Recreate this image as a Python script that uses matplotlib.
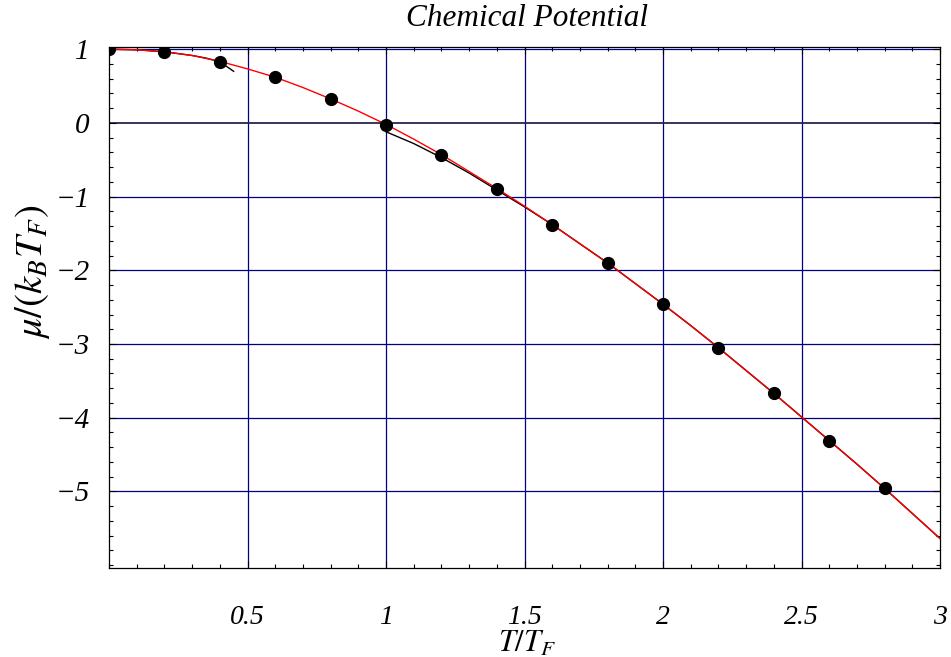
import matplotlib
matplotlib.use("Agg")
import matplotlib.pyplot as plt
from matplotlib.ticker import MultipleLocator, FixedLocator

plt.rcParams['mathtext.fontset'] = 'stix'
plt.rcParams['font.family'] = ['Liberation Serif', 'DejaVu Serif']

# exact (red) curve
t_exact = [0.0, 0.1, 0.2, 0.3, 0.4, 0.5, 0.6, 0.7, 0.8, 0.9, 1.0, 1.1, 1.2, 1.3, 1.4, 1.5,
           1.6, 1.7, 1.8, 1.9, 2.0, 2.1, 2.2, 2.3, 2.4, 2.5, 2.6, 2.7, 2.8, 2.9, 3.0]
mu_exact = [1.0, 0.992, 0.966, 0.915, 0.835, 0.733, 0.62, 0.48, 0.326, 0.16, -0.02, -0.22, -0.43,
            -0.66, -0.89, -1.13, -1.38, -1.64, -1.90, -2.18, -2.46, -2.75, -3.05, -3.36, -3.67,
            -3.99, -4.31, -4.63, -4.96, -5.30, -5.64]

# low-temperature expansion (black)
t_low = [0.0, 0.1, 0.2, 0.3, 0.35, 0.4, 0.45]
mu_low = [1.0, 0.992, 0.965, 0.915, 0.88, 0.83, 0.70]

# high-temperature expansion (black)
t_high = [1.0, 1.1, 1.2, 1.3, 1.4, 1.5, 1.6, 1.7, 1.8, 1.9, 2.0, 2.1, 2.2, 2.3, 2.4, 2.5,
          2.6, 2.7, 2.8, 2.9, 3.0]
mu_high = [-0.12, -0.28, -0.47, -0.68, -0.91, -1.14, -1.38, -1.64, -1.90, -2.18, -2.46, -2.75,
           -3.05, -3.36, -3.67, -3.99, -4.31, -4.63, -4.96, -5.30, -5.64]

# numerical points (dots)
t_pts = [0.0, 0.2, 0.4, 0.6, 0.8, 1.0, 1.2, 1.4, 1.6, 1.8, 2.0, 2.2, 2.4, 2.6, 2.8]
mu_pts = [1.0, 0.96, 0.83, 0.62, 0.326, -0.03, -0.435, -0.897, -1.386, -1.90, -2.46,
          -3.05, -3.67, -4.31, -4.96]

xticks = [0.5, 1, 1.5, 2, 2.5, 3]
xticklabels = ['0.5', '1', '1.5', '2', '2.5', '3']
yticks = [1, 0, -1, -2, -3, -4, -5]
yticklabels = ['1', '0', '\u22121', '\u22122', '\u22123', '\u22124', '\u22125']

fig = plt.figure(figsize=(9.51, 6.57), dpi=100)
ax = fig.add_axes([109/951, 1-568/657, (940-109)/951, (568-47)/657])
ax.set_xlim(0, 3)
ax.set_ylim(-6.04, 1.03)

grid_c = '#000080'
for x in xticks[:-1]:
    ax.axvline(x, color=grid_c, lw=0.9, zorder=1)
for y in yticks:
    ax.axhline(y, color=grid_c if y != 0 else '#262650', lw=0.9 if y != 0 else 1.3, zorder=1)

ax.plot(t_exact, mu_exact, color='red', lw=1.0, zorder=3)
ax.plot(t_low, mu_low, color='black', lw=1.0, zorder=2)
ax.plot(t_high, mu_high, color='black', lw=1.0, zorder=2)
ax.plot(t_pts, mu_pts, 'o', color='black', ms=8.5, zorder=4)

ax.xaxis.set_major_locator(FixedLocator(xticks))
ax.set_xticklabels(xticklabels)
ax.xaxis.set_minor_locator(MultipleLocator(0.1))
ax.yaxis.set_major_locator(FixedLocator(yticks))
ax.set_yticklabels(yticklabels)
ax.yaxis.set_minor_locator(MultipleLocator(0.2))

ax.tick_params(which='both', direction='in', top=True, right=True, width=0.8)
ax.tick_params(which='major', length=5)
ax.tick_params(which='minor', length=3)
ax.tick_params(axis='x', which='major', pad=27, labelsize=20)
ax.tick_params(axis='y', which='major', pad=14, labelsize=21)
for lab in ax.get_xticklabels() + ax.get_yticklabels():
    lab.set_fontstyle('italic')

for s in ax.spines.values():
    s.set_linewidth(0.9)

fig.text(527/951, 1-18/657, 'Chemical Potential', ha='center', va='center',
         fontsize=22.5, style='italic')
fig.text(527/951, 1-644/657, r'$T/T_F$', ha='center', va='center', fontsize=22)
fig.text(32/951, 1-272/657, r'$\mu/(k_B T_F)$', ha='center', va='center', fontsize=28,
         rotation=90)

fig.savefig('out.png', dpi=100)
